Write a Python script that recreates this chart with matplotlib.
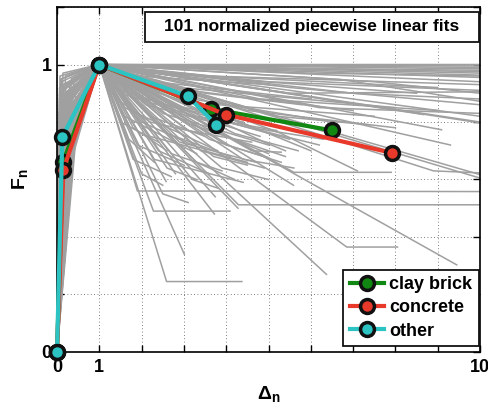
import numpy as np
import matplotlib.pyplot as plt
from matplotlib.patches import Rectangle

plt.rcParams['font.family'] = ['Liberation Sans', 'DejaVu Sans']
plt.rcParams['font.weight'] = 'bold'
plt.rcParams['mathtext.fontset'] = 'custom'
plt.rcParams['mathtext.bf'] = 'Liberation Sans:bold'
plt.rcParams['mathtext.rm'] = 'Liberation Sans:bold'

# left knee of each grey fit: (0,0) -> (knee) -> (1,1)
grey_knee_x = [0.03, 0.05, 0.08, 0.10, 0.12, 0.04, 0.06, 0.15, 0.20, 0.07,
               0.09, 0.11, 0.25, 0.30, 0.05, 0.13, 0.18, 0.22, 0.35, 0.40,
               0.02, 0.06, 0.14, 0.08, 0.16, 0.28, 0.45, 0.10, 0.12, 0.04,
               0.19, 0.24, 0.33, 0.07, 0.09, 0.50, 0.17, 0.21, 0.26, 0.11,
               0.05, 0.13, 0.31, 0.38, 0.08, 0.15, 0.06, 0.23, 0.42, 0.10,
               0.03, 0.12, 0.18, 0.27, 0.36, 0.09, 0.14, 0.20, 0.07, 0.48,
               0.11, 0.16, 0.05, 0.29, 0.13, 0.34, 0.08, 0.22, 0.10, 0.04,
               0.17, 0.25, 0.39, 0.06, 0.12, 0.19, 0.44, 0.09, 0.15, 0.32,
               0.07, 0.21, 0.28, 0.05, 0.14, 0.37, 0.10, 0.18, 0.24, 0.08,
               0.13, 0.41, 0.06, 0.16, 0.30, 0.11, 0.20, 0.09, 0.26, 0.15, 0.12]
grey_knee_y = [0.70, 0.62, 0.80, 0.88, 0.75, 0.66, 0.92, 0.85, 0.90, 0.58,
               0.72, 0.95, 0.88, 0.93, 0.78, 0.68, 0.82, 0.76, 0.90, 0.94,
               0.60, 0.84, 0.79, 0.71, 0.87, 0.83, 0.92, 0.64, 0.91, 0.74,
               0.69, 0.86, 0.80, 0.96, 0.77, 0.89, 0.73, 0.93, 0.70, 0.81,
               0.56, 0.65, 0.87, 0.91, 0.83, 0.76, 0.88, 0.67, 0.85, 0.94,
               0.79, 0.61, 0.90, 0.78, 0.84, 0.72, 0.97, 0.63, 0.86, 0.80,
               0.69, 0.92, 0.75, 0.82, 0.58, 0.95, 0.66, 0.89, 0.77, 0.83,
               0.71, 0.64, 0.86, 0.90, 0.81, 0.73, 0.78, 0.95, 0.68, 0.91,
               0.87, 0.60, 0.76, 0.79, 0.93, 0.70, 0.85, 0.74, 0.88, 0.62,
               0.92, 0.82, 0.67, 0.89, 0.75, 0.84, 0.96, 0.71, 0.65, 0.80, 0.77]
# softening branch of each grey fit after the peak (1,1)
grey_tails = [
    [(10, 1.00)], [(10, 0.995)], [(10, 0.99)], [(10, 0.985)], [(10, 0.975)],
    [(10, 0.97)], [(10, 0.963)], [(10, 0.955)], [(6.7, 0.948), (10, 0.872)],
    [(10, 0.94)], [(3.0, 0.99), (10, 0.98)], [(8.66, 0.826)], [(9.09, 0.773)],
    [(10, 0.82)], [(10, 0.80)], [(10, 0.797)], [(5.5, 0.92), (10, 0.86)],
    [(4.0, 0.95), (8.5, 0.90)], [(7.0, 0.90), (10, 0.88)], [(9.3, 0.72)],
    [(10, 0.617)], [(10, 0.605)], [(1.9, 0.56), (10, 0.558)],
    [(4.29, 0.512), (10, 0.512)], [(8.9, 0.63), (10, 0.623)],
    [(5.6, 0.625), (7.9, 0.625)], [(5.59, 0.58)], [(6.85, 0.365), (8.05, 0.365)],
    [(6.37, 0.27)], [(9.45, 0.303)], [(2.59, 0.245), (4.37, 0.245)],
    [(3.01, 0.34)], [(2.28, 0.49), (4.09, 0.49)], [(3.72, 0.48)],
    [(5.3, 0.76), (7.1, 0.63)], [(6.0, 0.70)], [(3.5, 0.78), (5.0, 0.69)],
    [(4.6, 0.70), (5.3, 0.695)], [(2.58, 0.593)], [(3.74, 0.54)], [(4.28, 0.50)],
    [(2.0, 0.80), (3.2, 0.72)], [(2.2, 0.75), (4.5, 0.66)], [(1.6, 0.85), (3.8, 0.70)],
    [(2.5, 0.83), (5.0, 0.72)], [(3.0, 0.80), (5.4, 0.68)], [(1.8, 0.78), (2.6, 0.70)],
    [(2.4, 0.70), (3.6, 0.62)], [(3.3, 0.66), (4.2, 0.60)], [(2.8, 0.62)],
    [(3.6, 0.74), (5.3, 0.66)], [(4.0, 0.72), (5.0, 0.676)], [(1.5, 0.90), (4.8, 0.75)],
    [(2.1, 0.88), (5.5, 0.74)], [(2.7, 0.86), (6.0, 0.76)], [(3.2, 0.88), (6.5, 0.80)],
    [(2.0, 0.93), (7.0, 0.84)], [(1.7, 0.95), (6.0, 0.88)], [(4.5, 0.84), (8.0, 0.78)],
    [(3.8, 0.86), (7.5, 0.82)], [(2.3, 0.67), (4.4, 0.59)], [(1.9, 0.72), (3.0, 0.65)],
    [(2.6, 0.76), (4.1, 0.68)], [(3.4, 0.70), (4.9, 0.64)], [(2.9, 0.73), (4.7, 0.66)],
    [(4.2, 0.76), (5.7, 0.70)], [(3.1, 0.77), (4.6, 0.73)],
    [(1.4, 0.88), (2.2, 0.80), (3.4, 0.76)], [(2.4, 0.90), (4.2, 0.82)],
    [(3.5, 0.90), (5.8, 0.86)], [(4.8, 0.88), (9.0, 0.84)], [(5.5, 0.90), (10, 0.905)],
    [(1.3, 0.92), (3.0, 0.84)], [(2.2, 0.82), (3.5, 0.75)], [(1.8, 0.67), (2.7, 0.61)],
    [(2.0, 0.62), (2.5, 0.58)], [(3.9, 0.64), (5.0, 0.60)], [(4.4, 0.67), (5.6, 0.64)],
    [(4.0, 0.80), (6.2, 0.72)], [(2.9, 0.92), (8.0, 0.85)], [(3.6, 0.96), (10, 0.93)],
    [(6.0, 0.97), (10, 0.96)], [(2.2, 0.97), (9.0, 0.92)], [(5.0, 0.94), (10, 0.91)],
    [(1.6, 0.82), (3.3, 0.69)], [(2.7, 0.69), (3.9, 0.63)], [(3.2, 0.60), (3.8, 0.57)],
    [(2.5, 0.55), (3.1, 0.52)], [(1.7, 0.74), (2.3, 0.66)], [(3.0, 0.845), (4.4, 0.80)],
    [(4.6, 0.78), (6.3, 0.74)], [(5.2, 0.82), (7.4, 0.79)], [(6.2, 0.85), (10, 0.83)],
    [(3.3, 0.82), (5.2, 0.77)], [(2.1, 0.86), (3.9, 0.79)], [(1.5, 0.80), (2.4, 0.73)],
    [(2.6, 0.64), (3.3, 0.60)], [(3.7, 0.68), (4.5, 0.65)], [(4.9, 0.73), (5.4, 0.70)],
    [(1.9, 0.96), (5.0, 0.93)], [(7.5, 0.94), (10, 0.90)],
]

# mean fits per material
brick_x = [0, 0.14, 1, 3.63, 6.49]
brick_y = [0, 0.66, 1, 0.846, 0.771]
concrete_x = [0, 0.15, 1, 3.99, 7.93]
concrete_y = [0, 0.634, 1, 0.826, 0.692]
other_x = [0, 0.125, 1, 3.09, 3.77]
other_y = [0, 0.748, 1, 0.89, 0.79]

fig = plt.figure(figsize=(4.89, 4.03), dpi=100)
ax = fig.add_axes([0.1166, 0.1266, 0.865, 0.856])

for kx, ky, tail in zip(grey_knee_x, grey_knee_y, grey_tails):
    xs = [0, kx, 1] + [p[0] for p in tail]
    ys = [0, ky, 1] + [p[1] for p in tail]
    ax.plot(xs, ys, color='#a0a0a0', lw=1.1, zorder=2)

mk = dict(marker='o', markersize=10, markeredgecolor='#111111', markeredgewidth=2.5,
          lw=3, clip_on=False, zorder=5)
ax.plot(brick_x, brick_y, color='#118811', markerfacecolor='#118811', label='clay brick', **mk)
ax.plot(concrete_x, concrete_y, color='#e8392b', markerfacecolor='#e8392b', label='concrete', **mk)
ax.plot(other_x, other_y, color='#2cc3c3', markerfacecolor='#2cc3c3', label='other', **mk)

ax.set_xlim(0, 10)
ax.set_ylim(0, 1.2)
ax.set_xticks(range(11))
ax.set_xticklabels(['0', '1'] + [''] * 8 + ['10'])
ax.set_yticks(np.arange(0, 1.21, 0.2))
ax.set_yticklabels(['0', '', '', '', '', '1', ''])
ax.tick_params(direction='in', length=5, width=1, top=True, right=True,
               labelsize=13, pad=5)
ax.tick_params(axis='y', pad=4)
ax.set_axisbelow(True)
ax.grid(True, color='#555555', linestyle=(0, (1, 3)), lw=0.6)
for s in ax.spines.values():
    s.set_linewidth(1.2)

ax.set_xlabel(r'$\mathbf{\Delta_n}$', fontsize=14, labelpad=6)
ax.set_ylabel(r'$\mathbf{F_n}$', fontsize=14, labelpad=8)

ax.add_patch(Rectangle((0.207, 0.9), 0.79, 0.085, transform=ax.transAxes,
                       facecolor='white', edgecolor='#111111', lw=1.3, zorder=6))
ax.text(0.6017, 0.9435, '101 normalized piecewise linear fits', transform=ax.transAxes,
        ha='center', va='center', fontsize=12.5, fontweight='bold', zorder=7)

leg = ax.legend(loc='lower right', bbox_to_anchor=(0.997, 0.017), fontsize=13,
                handlelength=1.9, handletextpad=0.3, labelspacing=0.35,
                borderpad=0.35, borderaxespad=0, fancybox=False, framealpha=1,
                edgecolor='#111111')
leg.get_frame().set_linewidth(1.3)

fig.savefig('out.png', dpi=100)
